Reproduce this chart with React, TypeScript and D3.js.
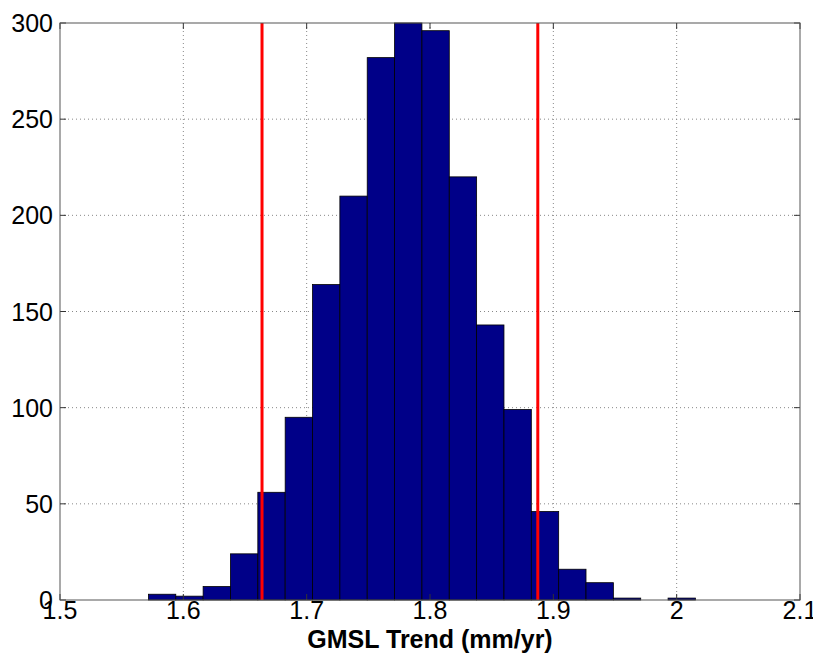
import React from 'react';
import * as d3 from 'd3';

// histogram of GMSL trend estimates (20 bins)
const binStart = 1.5717;
const binWidth = 0.022175;
const counts = [3, 2, 7, 24, 56, 95, 164, 210, 282, 300, 296, 220, 143, 99, 46, 16, 9, 1, 0, 1];
const redLines = [1.6638, 1.8874];
const xTicks = [1.5, 1.6, 1.7, 1.8, 1.9, 2, 2.1];
const yTicks = [0, 50, 100, 150, 200, 250, 300];
const xLabel = 'GMSL Trend (mm/yr)';

const width = 813,
    height = 658;
const margin = { left: 60, right: 13, top: 23, bottom: 58 };

function App() {
    const x = d3.scaleLinear().domain([1.5, 2.1]).range([margin.left, width - margin.right]);
    const y = d3.scaleLinear().domain([0, 300]).range([height - margin.bottom, margin.top]);
    const [x0, x1] = x.range();
    const [y0, y1] = y.range();
    const font = '"Liberation Sans", Arial, sans-serif';

    return (
        <svg width={width} height={height} style={{ position: 'absolute', left: 0, top: 0, background: '#fff' }}>
            <rect x={0} y={0} width={width} height={height} fill="#fff" />
            {/* grid */}
            {xTicks.slice(1, -1).map(t => (
                <line key={'gx' + t} x1={x(t)} x2={x(t)} y1={y1} y2={y0} stroke="#888" strokeWidth={1} strokeDasharray="1,3" />
            ))}
            {yTicks.slice(1, -1).map(t => (
                <line key={'gy' + t} x1={x0} x2={x1} y1={y(t)} y2={y(t)} stroke="#888" strokeWidth={1} strokeDasharray="1,3" />
            ))}
            {/* bars */}
            {counts.map((c, i) => {
                const a = binStart + i * binWidth;
                return (
                    <rect key={'b' + i} x={x(a)} y={y(c)} width={x(a + binWidth) - x(a)} height={y(0) - y(c)}
                        fill="#000088" stroke="#000" strokeWidth={0.8} />
                );
            })}
            {/* red lines */}
            {redLines.map(v => (
                <line key={'r' + v} x1={x(v)} x2={x(v)} y1={y1} y2={y0} stroke="#ff0000" strokeWidth={3} />
            ))}
            {/* ticks */}
            {xTicks.map(t => (
                <g key={'tx' + t}>
                    <line x1={x(t)} x2={x(t)} y1={y0} y2={y0 - 6} stroke="#333" />
                    <line x1={x(t)} x2={x(t)} y1={y1} y2={y1 + 6} stroke="#333" />
                    <text x={x(t)} y={y0 + 19} textAnchor="middle" fontFamily={font} fontSize={25} fill="#000">{t}</text>
                </g>
            ))}
            {yTicks.map(t => (
                <g key={'ty' + t}>
                    <line x1={x0} x2={x0 + 6} y1={y(t)} y2={y(t)} stroke="#333" />
                    <line x1={x1} x2={x1 - 6} y1={y(t)} y2={y(t)} stroke="#333" />
                    <text x={x0 - 7} y={y(t) + 9} textAnchor="end" fontFamily={font} fontSize={25} fill="#000">{t}</text>
                </g>
            ))}
            {/* box */}
            <rect x={x0} y={y1} width={x1 - x0} height={y0 - y1} fill="none" stroke="#555" strokeWidth={1} />
            <text x={(x0 + x1) / 2} y={height - 10} textAnchor="middle" fontFamily={font} fontSize={25} fontWeight="bold" fill="#000">{xLabel}</text>
        </svg>
    );
}

export default App;
